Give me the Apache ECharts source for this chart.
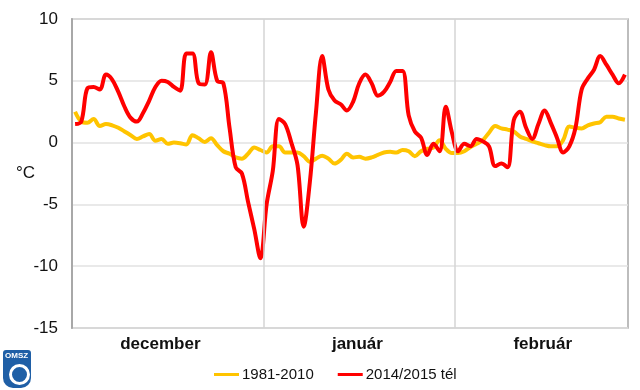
<!DOCTYPE html>
<html>
<head>
<meta charset="utf-8">
<script src="https://cdn.jsdelivr.net/npm/echarts@6/dist/echarts.min.js"></script>
<style>html,body{margin:0;padding:0;background:#fff}#c{width:640px;height:390px}</style>
</head>
<body>
<div id="c"></div>
<script>
// Day index 0..89 = 1 Dec .. 28 Feb
const monthNames = ['december', 'január', 'február'];
const monthLabelPos = [14.3, 46.2, 76.2];
const monthBounds = [31, 62];
const yTicks = [-15, -10, -5, 0, 5, 10];
const seriesNames = ['1981-2010', '2014/2015 tél'];
const normal = [
  2.5, 1.7, 1.6, 1.9, 1.35, 1.5, 1.4, 1.2, 0.9, 0.6,
  0.3, 0.5, 0.7, 0.15, 0.3, -0.1, 0.0, -0.05, -0.15, 0.6,
  0.35, 0.05, 0.35, -0.2, -0.7, -0.9, -1.2, -1.3, -0.9, -0.4,
  -0.6, -0.8, -0.3, -0.3, -0.8, -0.8, -0.8, -1.1, -1.55, -1.3,
  -1.06, -1.3, -1.7, -1.4, -0.9, -1.2, -1.15, -1.3, -1.2, -1.0,
  -0.8, -0.75, -0.8, -0.6, -0.7, -1.1, -0.7, -0.5, -0.4, 0.2,
  -0.5, -0.85, -0.85, -0.7, -0.35, -0.1, 0.2, 0.8, 1.35, 1.15,
  1.05, 0.9, 0.5, 0.3, 0.1, -0.05, -0.2, -0.3, -0.3, 0.2,
  1.3, 1.2, 1.15, 1.4, 1.55, 1.65, 2.1, 2.1, 1.95, 1.85
];
const winter = [
  1.5, 1.7, 4.4, 4.5, 4.3, 5.5, 5.1, 4.1, 2.9, 2.0,
  1.7, 2.4, 3.4, 4.5, 5.0, 4.9, 4.5, 4.2, 7.2, 7.2,
  4.8, 4.7, 7.3, 5.0, 4.8, 1.2, -2.0, -2.5, -4.8, -7.0,
  -9.35, -5.0, -2.3, 1.9, 1.5, 0.0, -1.8, -6.8, -3.2, 2.5,
  7.0, 4.3, 3.4, 3.1, 2.6, 3.3, 4.8, 5.5, 4.8, 3.8,
  4.1, 4.9, 5.8, 5.8, 2.2, 0.9, 0.4, -1.0, -0.1, -0.7,
  2.9, 0.8, -0.7, -0.1, -0.3, 0.3, 0.1, -0.3, -1.9, -1.7,
  -2.0, 1.8, 2.5, 1.2, 0.3, 1.5, 2.6, 1.6, 0.4, -0.8,
  -0.3, 1.2, 4.3, 5.2, 5.9, 7.0, 6.3, 5.5, 4.8, 5.5
];

const toXY = arr => arr.map((v, i) => [i + 0.5, v]);
const chart = echarts.init(document.getElementById('c'), null, {renderer: 'canvas'});
const font = 'Liberation Sans, Arial, sans-serif';
chart.setOption({
  animation: false,
  backgroundColor: '#fff',
  textStyle: {fontFamily: font},
  grid: {left: 72, right: 12, top: 19, bottom: 62, show: true, borderColor: '#a8a8a8', borderWidth: 1.5, containLabel: false},
  xAxis: {
    type: 'value', min: 0, max: 90,
    axisLine: {show: false},
    axisTick: {show: false},
    splitLine: {show: false},
    axisLabel: {
      customValues: monthLabelPos,
      formatter: v => monthNames[monthLabelPos.indexOf(v)] || '',
      fontSize: 17, fontWeight: 'bold', color: '#111', margin: 8, fontFamily: font
    }
  },
  yAxis: {
    type: 'value', min: yTicks[0], max: yTicks[yTicks.length - 1], interval: 5,
    name: '°C', nameLocation: 'middle', nameRotate: 0, nameGap: 37,
    nameMoveOverlap: false,
    nameTextStyle: {fontSize: 17, color: '#111', fontFamily: font, padding: [8, 0, 0, 0]},
    axisLine: {show: true, lineStyle: {color: '#a8a8a8', width: 2}},
    axisTick: {show: false},
    axisLabel: {fontSize: 17, color: '#111', margin: 14, fontFamily: font},
    splitLine: {show: true, lineStyle: {color: '#e2e2e2', width: 1.5}}
  },
  legend: {
    bottom: 3, left: 209,
    itemWidth: 25, itemHeight: 3, itemGap: 24,
    icon: 'rect',
    textStyle: {fontSize: 15, color: '#111', fontFamily: font, padding: [0, 0, 0, -2]},
    data: seriesNames
  },
  series: [
    {
      name: seriesNames[0], type: 'line', data: toXY(normal),
      smooth: 0.35, showSymbol: false, symbol: 'none',
      lineStyle: {color: '#FFC400', width: 4}, itemStyle: {color: '#FFC400'},
      markLine: {
        silent: true, symbol: 'none', label: {show: false},
        lineStyle: {color: '#d4d4d4', width: 1.5, type: 'solid'},
        data: monthBounds.map(b => ({xAxis: b}))
      },
      z: 2
    },
    {
      name: seriesNames[1], type: 'line', data: toXY(winter),
      smooth: 0.35, showSymbol: false, symbol: 'none',
      lineStyle: {color: '#FF0000', width: 4}, itemStyle: {color: '#FF0000'},
      z: 3
    }
  ],
  graphic: [
    {type: 'rect', left: 3, top: 350, shape: {width: 28, height: 38, r: [3, 3, 10, 10]}, style: {fill: '#1f5fa6'}},
    {type: 'text', left: 5, top: 352, style: {text: 'OMSZ', fill: '#fff', font: 'bold 8px Liberation Sans, Arial'}},
    {type: 'circle', left: 8, top: 363, shape: {r: 9}, style: {fill: 'none', stroke: '#fff', lineWidth: 3}}
  ]
});
</script>
</body>
</html>
